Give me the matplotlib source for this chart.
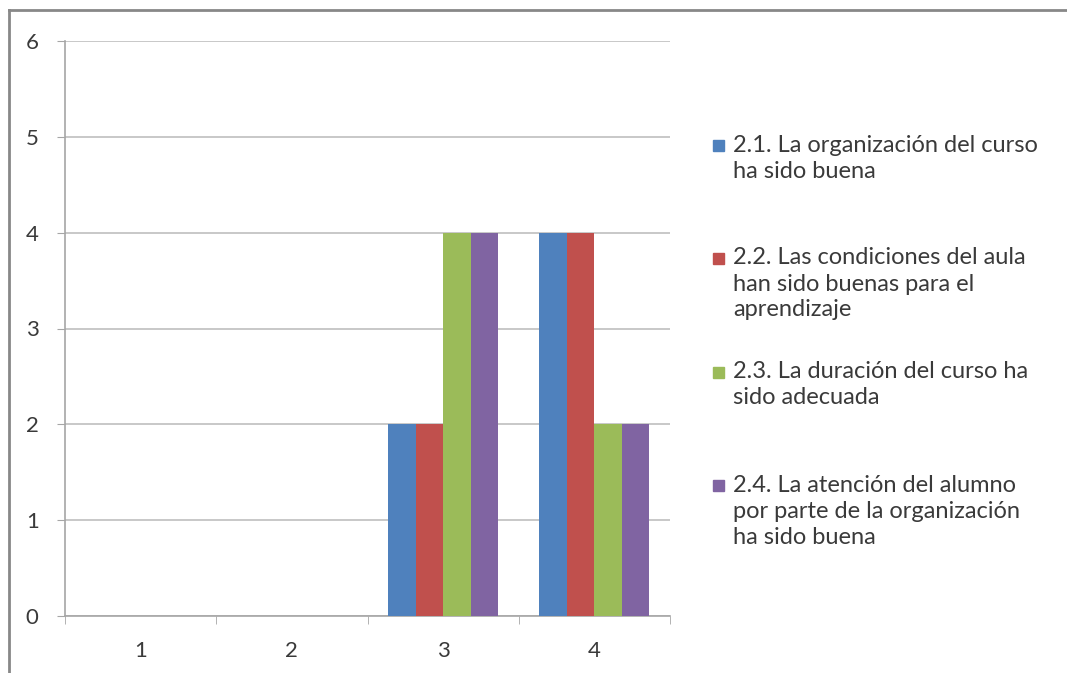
import matplotlib.pyplot as plt
import numpy as np
from matplotlib.patches import Rectangle
from matplotlib.lines import Line2D

plt.rcParams['font.family'] = ['Lato', 'DejaVu Sans']

categorias = ['1', '2', '3', '4']
s21 = [0, 0, 2, 4]
s22 = [0, 0, 2, 4]
s23 = [0, 0, 4, 2]
s24 = [0, 0, 4, 2]
series = [s21, s22, s23, s24]
colores = ['#4F81BD', '#C0504D', '#9BBB59', '#8064A2']
etiquetas = [
    ['2.1. La organización del curso', 'ha sido buena'],
    ['2.2. Las condiciones del aula', 'han sido buenas para el', 'aprendizaje'],
    ['2.3. La duración del curso ha', 'sido adecuada'],
    ['2.4. La atención del alumno', 'por parte de la organización', 'ha sido buena'],
]

fig = plt.figure(figsize=(10.67, 6.73), dpi=100)
ax = fig.add_axes([65/1067, 57/673, 605/1067, 575/673])

x = np.arange(1, 5)
w = 1 / 5.5
for i, (vals, c) in enumerate(zip(series, colores)):
    ax.bar(x + (i - 1.5) * w, vals, width=w, color=c, zorder=3)

gris = '#A6A6A6'
ax.set_xlim(0.5, 4.5)
ax.set_ylim(0, 6)
ax.set_yticks(range(0, 7))
ax.set_xticks(x)
ax.set_xticklabels(categorias)
ax.set_xticks(np.arange(0.5, 4.6, 1), minor=True)
ax.yaxis.grid(True, color='#BFBFBF', linewidth=1.2, zorder=0)
for s in ['top', 'right']:
    ax.spines[s].set_visible(False)
for s in ['left', 'bottom']:
    ax.spines[s].set_color(gris)
    ax.spines[s].set_linewidth(1.2)
ax.tick_params(axis='y', length=6, color=gris, labelsize=16, pad=13, labelcolor='#3A3A3A')
ax.tick_params(axis='x', which='major', length=0, labelsize=16, pad=18, labelcolor='#3A3A3A')
ax.tick_params(axis='x', which='minor', length=6, color=gris)

# leyenda manual
y_inicio = [145, 258, 372, 485]
for lineas, c, y0 in zip(etiquetas, colores, y_inicio):
    fig.patches.append(Rectangle((713/1067, 1 - (y0 + 6)/673), 11/1067, 11/673,
                                 transform=fig.transFigure, color=c))
    for k, t in enumerate(lineas):
        fig.text(733/1067, 1 - (y0 + k * 26)/673, t, fontsize=17,
                 color='#3A3A3A', va='center', ha='left')

# borde del gráfico
fig.add_artist(Line2D([9/1067, 9/1067], [0, 1 - 10/673], transform=fig.transFigure,
                      color='#888888', linewidth=2))
fig.add_artist(Line2D([9/1067, 1], [1 - 10/673, 1 - 10/673], transform=fig.transFigure,
                      color='#888888', linewidth=2))

plt.savefig('out.png', dpi=100)
